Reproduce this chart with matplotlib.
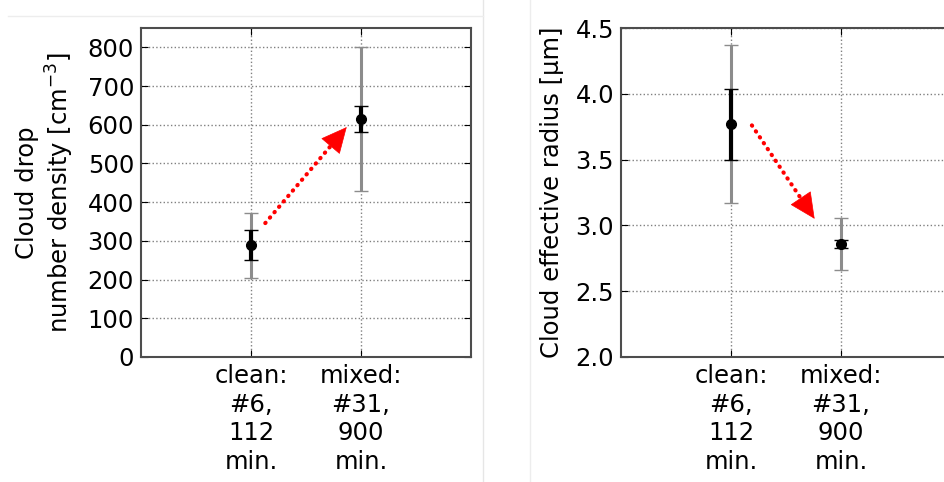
import matplotlib
matplotlib.use('Agg')
import numpy as np
from matplotlib import pyplot as plt
from matplotlib.lines import Line2D

# data
cases = ['clean:\n#6,\n112\nmin.', 'mixed:\n#31,\n900\nmin.']
xpos = [1, 2]

nd_mean = [290, 615]
nd_inner_lo = [250, 582]
nd_inner_hi = [327, 648]
nd_outer_lo = [205, 430]
nd_outer_hi = [372, 802]

re_mean = [3.77, 2.86]
re_inner_lo = [3.50, 2.83]
re_inner_hi = [4.04, 2.89]
re_outer_lo = [3.17, 2.66]
re_outer_hi = [4.37, 3.06]

nd_arrow = [(1.13, 346), (1.87, 594)]
re_arrow = [(1.19, 3.76), (1.76, 3.05)]

fs = 17.5
plt.rcParams['font.family'] = 'DejaVu Sans'
plt.rcParams['font.size'] = fs

W, H = 944, 482
fig = plt.figure(figsize=(W / 100, H / 100), dpi=100)


def _panel(rect, mean, ilo, ihi, olo, ohi, arrow):
    ax = fig.add_axes(rect)
    m = np.array(mean)
    ax.errorbar(xpos, m, yerr=[m - np.array(olo), np.array(ohi) - m], fmt='none',
                ecolor='0.55', elinewidth=2.2, capsize=5, capthick=1, zorder=3)
    ax.errorbar(xpos, m, yerr=[m - np.array(ilo), np.array(ihi) - m], fmt='none',
                ecolor='black', elinewidth=3, capsize=5, capthick=1, zorder=4)
    ax.plot(xpos, m, 'o', color='black', ms=7, zorder=5)

    # dotted shaft + solid head
    (x0, y0), (x1, y1) = arrow
    f = 0.85
    xm, ym = x0 + f * (x1 - x0), y0 + f * (y1 - y0)
    ax.plot([x0, xm], [y0, ym], color='red', lw=3, linestyle=(0, (0.1, 1.6)),
            dash_capstyle='round', zorder=6)
    ax.annotate('', xy=(x1, y1), xytext=(xm, ym),
                arrowprops=dict(arrowstyle='-|>,head_length=1.15,head_width=0.55',
                                color='red', lw=0.5, mutation_scale=15,
                                shrinkA=0, shrinkB=0), zorder=6)
    ax.set_xlim(0, 3)
    ax.set_xticks(xpos)
    ax.set_xticklabels(cases, linespacing=1.25)
    ax.grid(True, color='0.5', linestyle=':', linewidth=1)
    ax.tick_params(direction='in', top=True, right=True, length=5, pad=5)
    for s in ax.spines.values():
        s.set_linewidth(1.5)
        s.set_color('0.3')
    return ax


ax1 = _panel([141 / W, 125 / H, 330 / W, 329 / H], nd_mean, nd_inner_lo, nd_inner_hi,
             nd_outer_lo, nd_outer_hi, nd_arrow)
ax1.set_ylim(0, 850)
ax1.set_yticks(np.arange(0, 900, 100))
ax1.set_ylabel('Cloud drop\nnumber density [cm$^{-3}$]', labelpad=8)

ax2 = _panel([621 / W, 125 / H, 330 / W, 329 / H], re_mean, re_inner_lo, re_inner_hi,
             re_outer_lo, re_outer_hi, re_arrow)
ax2.set_ylim(2.0, 4.5)
ax2.set_yticks(np.arange(2.0, 4.51, 0.5))
ax2.set_ylabel('Cloud effective radius [\u03bcm]', labelpad=8)

# faint screenshot separators
fig.add_artist(Line2D([483 / W, 483 / W], [0, 1], color='0.9', lw=1))
fig.add_artist(Line2D([530 / W, 530 / W], [0, 1], color='0.93', lw=1))
fig.add_artist(Line2D([8 / W, 483 / W], [1 - 16 / H, 1 - 16 / H], color='0.93', lw=1))

plt.savefig('out.png', dpi=100)
plt.close()
